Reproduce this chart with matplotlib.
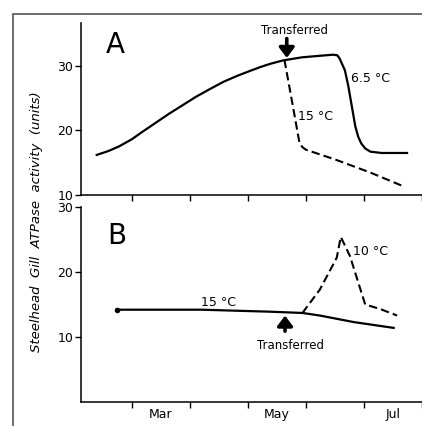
import matplotlib.pyplot as plt
from matplotlib.patches import Rectangle

# months as numbers: 3 = 1 Mar, 4 = 1 Apr, ...
month_ticks = [3, 4, 5, 6, 7, 8]
month_label_pos = [3.5, 5.5, 7.5]
month_labels = ['Mar', 'May', 'Jul']

# panel A: 6.5 C (solid) and 15 C after transfer (dashed)
a_solid_x = [2.40, 2.60, 2.78, 3.00, 3.19, 3.42, 3.65, 3.88, 4.11, 4.35, 4.58, 4.81,
             5.04, 5.22, 5.39, 5.60, 5.80, 5.94, 6.20, 6.47, 6.54, 6.58, 6.67,
             6.73, 6.79, 6.85, 6.90, 6.95, 7.02, 7.11, 7.30, 7.74]
a_solid_y = [16.2, 16.8, 17.5, 18.6, 19.8, 21.2, 22.6, 23.9, 25.2, 26.4, 27.5, 28.4,
             29.2, 29.8, 30.3, 30.8, 31.1, 31.3, 31.5, 31.7, 31.6, 31.1, 29.3,
             26.8, 23.7, 20.6, 19.0, 18.0, 17.2, 16.7, 16.5, 16.5]
a_dash_x = [5.63, 5.76, 5.89, 5.94, 6.00, 6.50, 7.10, 7.69]
a_dash_y = [30.9, 24.5, 18.0, 17.4, 17.0, 15.5, 13.5, 11.3]

# panel B: 15 C (solid) and 10 C after transfer (dashed)
b_solid_x = [2.74, 4.20, 5.36, 5.94, 6.24, 6.82, 7.51]
b_solid_y = [14.2, 14.2, 13.9, 13.7, 13.3, 12.3, 11.4]
b_dash_x = [5.94, 6.24, 6.53, 6.60, 6.76, 6.90, 7.02, 7.28, 7.57]
b_dash_y = [13.7, 17.3, 22.2, 25.4, 22.4, 18.4, 15.0, 14.3, 13.3]

W, H = 422, 426
fig = plt.figure(figsize=(W / 100, H / 100), dpi=100)
fig.patch.set_facecolor('white')

# outer frame (cut off at right and bottom)
fig.add_artist(Rectangle((12.5 / W, -0.1), 1.2, 1 - 13.5 / H + 0.1,
                         transform=fig.transFigure, fill=False,
                         edgecolor='#555555', lw=1.2))

left = 81 / W
width = 1 - left + 0.01
axA = fig.add_axes([left, 1 - 195 / H, width, (195 - 23) / H])
axB = fig.add_axes([left, 1 - 402 / H, width, (402 - 207) / H])

for ax in (axA, axB):
    ax.set_facecolor('none')
    for s in ('top', 'right'):
        ax.spines[s].set_visible(False)
    for s in ('left', 'bottom'):
        ax.spines[s].set_linewidth(1.1)
    ax.set_xlim(2.129, 8.07)
    ax.set_xticks(month_ticks)
    ax.tick_params(axis='both', direction='out', length=4, width=1.0,
                   labelsize=9, pad=1.5)

axA.set_ylim(10, 36.6)
axA.set_yticks([10, 20, 30])
axA.set_xticklabels([])

axB.set_ylim(0, 30)
axB.set_yticks([10, 20, 30])
axB.set_xticklabels([])
axB.set_xticks(month_label_pos, minor=True)
axB.set_xticklabels(month_labels, minor=True)
axB.tick_params(axis='x', which='minor', length=0, pad=4.5, labelsize=9)

dash = (4, 2)
axA.plot(a_solid_x, a_solid_y, color='black', lw=1.6)
axA.plot(a_dash_x, a_dash_y, color='black', lw=1.5, dashes=dash)
axB.plot(b_solid_x, b_solid_y, color='black', lw=1.6)
axB.plot(b_solid_x[:1], b_solid_y[:1], 'o', color='black', ms=3)
axB.plot(b_dash_x, b_dash_y, color='black', lw=1.5, dashes=dash)

arrow = dict(arrowstyle='-|>,head_width=0.45,head_length=0.6', color='black',
             lw=2.6, shrinkA=0, shrinkB=0)

axA.text(2.55, 33.2, 'A', fontsize=20, ha='left', va='center')
axA.text(5.80, 35.5, 'Transferred', fontsize=8.5, ha='center', va='center')
axA.annotate('', xy=(5.67, 31.2), xytext=(5.67, 34.2), arrowprops=arrow)
axA.text(6.78, 28.0, '6.5 °C', fontsize=9, ha='left', va='center')
axA.text(5.86, 22.1, '15 °C', fontsize=9, ha='left', va='center')

axB.text(2.58, 25.5, 'B', fontsize=20, ha='left', va='center')
axB.text(4.50, 15.3, '15 °C', fontsize=9, ha='center', va='center')
axB.text(6.81, 23.2, '10 °C', fontsize=9, ha='left', va='center')
axB.annotate('', xy=(5.64, 13.3), xytext=(5.64, 10.9), arrowprops=arrow)
axB.text(5.74, 8.7, 'Transferred', fontsize=8.5, ha='center', va='center')

fig.text(37 / W, 1 - 222 / H, 'Steelhead  Gill  ATPase  activity  (units)',
         rotation=90, ha='center', va='center', fontsize=9.5, style='italic')

fig.savefig('out.png', dpi=100)
